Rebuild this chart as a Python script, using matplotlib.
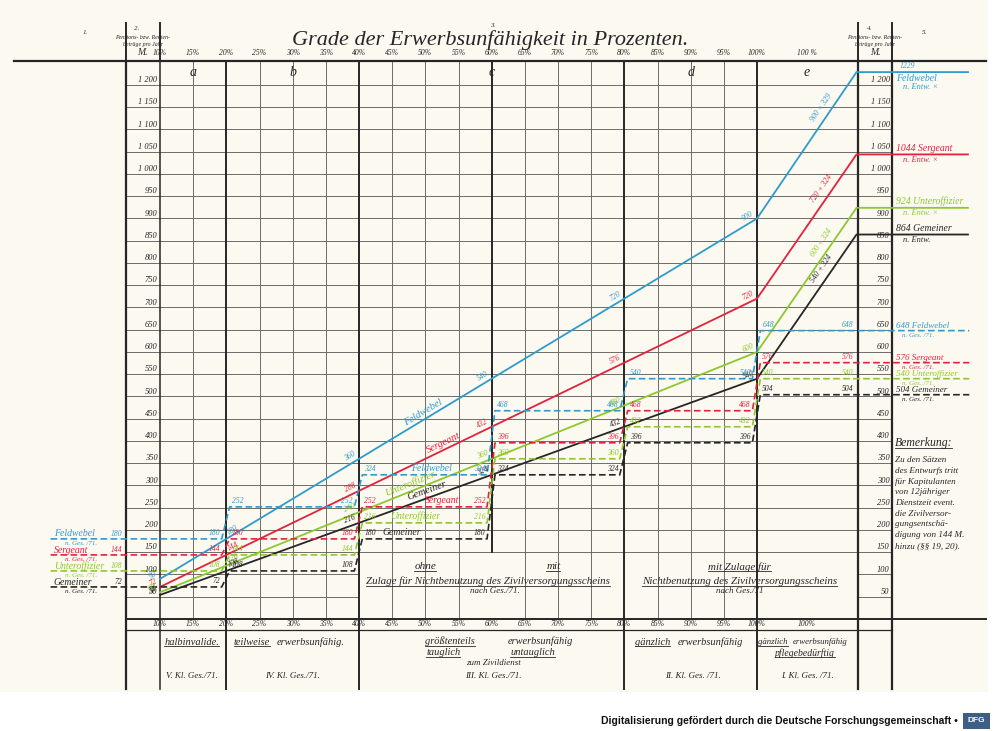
import math
import numpy as np
import matplotlib.pyplot as plt
from matplotlib.patches import Rectangle

# pension in Mark per year
pct_points = [10, 20, 40, 60, 80, 100, 115]
feldwebel_entw = [90, 180, 360, 540, 720, 900, 1229]
sergeant_entw = [72, 144, 288, 432, 576, 720, 1044]
unteroffizier_entw = [60, 120, 240, 360, 480, 600, 924]
gemeiner_entw = [54, 108, 216, 324, 432, 540, 864]

# steps according to the law of 1871 (one value per class band)
band_edges = [10, 20, 40, 60, 80, 100]
feldwebel_ges = [180, 252, 324, 468, 540, 648]
sergeant_ges = [144, 180, 252, 396, 468, 576]
unteroffizier_ges = [108, 144, 216, 360, 432, 540]
gemeiner_ges = [72, 108, 180, 324, 396, 504]

ranks = ['Feldwebel', 'Sergeant', 'Unteroffizier', 'Gemeiner']
e_zulage = ['900 + 329', '720 + 324', '600 + 324', '540 + 324']
pct_ticks = list(range(10, 105, 5))
mark_ticks = list(range(50, 1250, 50))

colors = ['#2f9bcc', '#e2223d', '#8cc92e', '#262626']
FONT = 'Liberation Serif'
INK = '#262626'
GRID = '#626262'

X_LEFT, X_E, X_RIGHT = 4.9, 115.2, 120.3
Y_TOP, Y_PCT, Y_BOT = 1254, -24, -157

fig = plt.figure(figsize=(10, 7.31), dpi=100, facecolor='white')
ax = fig.add_axes([0, 0, 1, 1])
ax.set_xlim(-14.12, 136.63)
ax.set_ylim(-251.7, 1391.0)
ax.axis('off')
ax.add_patch(Rectangle((-14.12, -164), 148.9, 1560, facecolor='#fcf9f1',
                       edgecolor='none', zorder=0))


def txt(x, y, s, size=6, color=INK, ha='center', va='center', rot=0, **kw):
    return ax.text(x, y, s, fontsize=size, color=color, ha=ha, va=va, rotation=rot,
                   rotation_mode='anchor', family=FONT, style='italic', zorder=5, **kw)


def angle_of(x0, y0, x1, y1):
    (a, b), (c, d) = ax.transData.transform([(x0, y0), (x1, y1)])
    return math.degrees(math.atan2(d - b, c - a))


def fmt(v):
    return f'{v:,}'.replace(',', ' ')


# grid
for v in mark_ticks:
    if v <= 100:
        ax.plot([X_LEFT, 40], [v, v], color=GRID, lw=0.65, zorder=1)
        ax.plot([X_E, X_RIGHT], [v, v], color=GRID, lw=0.65, zorder=1)
    else:
        ax.plot([X_LEFT, X_RIGHT], [v, v], color=GRID, lw=0.65, zorder=1)
    txt(9.6, v + 2, fmt(v), 6, ha='right', va='bottom')
    txt(120.0, v + 2, fmt(v), 6, ha='right', va='bottom')

for p in pct_ticks:
    if p % 20 == 0 or p == 10:
        continue
    ax.plot([p, p], [0, Y_TOP], color=GRID, lw=0.65, zorder=1)
for x, lw in [(X_LEFT, 1.6), (10, 1.1), (20, 1.4), (40, 1.4), (80, 1.4), (100, 1.4),
              (X_E, 1.6), (X_RIGHT, 1.6)]:
    ax.plot([x, x], [Y_BOT, Y_TOP], color=INK, lw=lw, zorder=2)
ax.plot([60, 60], [150, Y_TOP], color=INK, lw=1.4, zorder=2)
for x in [X_LEFT, 10, X_E, X_RIGHT]:
    ax.plot([x, x], [Y_TOP, 1339], color=INK, lw=1.4, zorder=2)
ax.plot([-12, 134.5], [Y_TOP, Y_TOP], color=INK, lw=1.6, zorder=2)
ax.plot([X_LEFT, 134.5], [0, 0], color=INK, lw=1.4, zorder=2)
ax.plot([X_LEFT, X_RIGHT], [Y_PCT, Y_PCT], color=INK, lw=0.9, zorder=2)

# percent labels top and bottom
for p in pct_ticks:
    txt(p, 1272, f'{p}%', 5.5)
    txt(p, -11, f'{p}%', 5.5)
txt(107.5, 1272, '100 %', 5.5)
txt(107.5, -11, '100%', 5.5)

# header
txt(59.8, 1301, 'Grade der Erwerbsunfähigkeit in Prozenten.', 16)
txt(-1.3, 1318, '1.', 5)
txt(60.2, 1333, '3.', 5)
txt(125.3, 1318, '5.', 5)
for xc, num in [(7.4, '2.'), (117.8, '4.')]:
    txt(xc - 0.9, 1328, num, 5)
    txt(xc, 1306, 'Pensions- bzw. Renten-', 4.2)
    txt(xc, 1292, 'beträge pro Jahr', 4.2)
    txt(xc, 1272, 'M.', 7)
for xc, letter in [(15, 'a'), (30, 'b'), (60, 'c'), (90, 'd'), (107.5, 'e')]:
    txt(xc, 1229, letter, 10)

# solid lines: draft (n. Entw.)
entw = [feldwebel_entw, sergeant_entw, unteroffizier_entw, gemeiner_entw]
name_pos = [50, 53, 48, 50.5]
for name, vals, col, zul, npos in zip(ranks, entw, colors, e_zulage, name_pos):
    ax.plot(pct_points + [131.8], vals + [vals[-1]], color=col, lw=1.3, zorder=3)
    ang = angle_of(10, vals[0], 100, vals[5])
    for p, v in zip(pct_points[:-1], vals[:-1]):
        if p == 20:
            txt(p + 0.5, v + 5, str(v), 5.5, col, ha='left', va='bottom', rot=ang)
        else:
            txt(p - 0.3, v + 5, str(v), 5.5, col, ha='right', va='bottom', rot=ang)
    yn = np.interp(npos, pct_points, vals)
    txt(npos, yn + 6, name, 7.5, col, va='bottom', rot=ang)
    e_ang = angle_of(100, vals[5], 115, vals[6])
    ym = np.interp(110.8, [100, 115], vals[5:7])
    txt(110.2, ym + 8, zul, 5.5, col, va='bottom', rot=e_ang)

# right labels for the draft
fw, sg, uo, gm = feldwebel_entw[-1], sergeant_entw[-1], unteroffizier_entw[-1], gemeiner_entw[-1]
txt(121.5, fw + 4, str(fw), 5.5, colors[0], ha='left', va='bottom')
txt(120.9, fw - 4, 'Feldwebel', 7, colors[0], ha='left', va='top')
txt(122.0, fw - 24, 'n. Entw. ×', 6, colors[0], ha='left', va='top')
for v, name, col, mark in [(sg, 'Sergeant', colors[1], ' ×'), (uo, 'Unteroffizier', colors[2], ' ×'),
                           (gm, 'Gemeiner', colors[3], '')]:
    txt(120.9, v + 3, f'{v} {name}', 7, col, ha='left', va='bottom')
    txt(122.0, v - 3, 'n. Entw.' + mark, 6, col, ha='left', va='top')

# dashed lines: law of 1871 (n. Ges. /71.)
ges = [feldwebel_ges, sergeant_ges, unteroffizier_ges, gemeiner_ges]
mid_pos = [51, 52.5, 48.5, 46.5]
for name, vals, col, mpos in zip(ranks, ges, colors, mid_pos):
    xs, ys = [-6.5], [vals[0]]
    for i, v in enumerate(vals):
        a = band_edges[i]
        last = i + 1 == len(band_edges)
        b = 132 if last else band_edges[i + 1]
        start = a if i == 0 else a + 0.5
        end = b if last else b - 0.7
        xs += [start, end]
        ys += [v, v]
        if i == 0:
            txt(4.3, v + 3, str(v), 5.5, col, ha='right', va='bottom')
        else:
            txt(start + 0.3, v + 4, str(v), 5.5, col, ha='left', va='bottom')
        txt((114.5 if last else end - 0.2), v + 4, str(v), 5.5, col, ha='right', va='bottom')
    ax.plot(xs, ys, color=col, lw=1.2, ls=(0, (4, 2)), zorder=3)
    txt(mpos, vals[2] + 4, name, 7, col, va='bottom')
    # left and right legends
    txt(-6.0, vals[0] + 11, name, 7, col, ha='left')
    txt(-4.3, vals[0] - 10, 'n. Ges. /71.', 5, col, ha='left')
    txt(120.9, vals[-1] + 11, f'{vals[-1]} {name}', 6.5, col, ha='left')
    txt(121.8, vals[-1] - 10, 'n. Ges. /71.', 5, col, ha='left')

# remark
remark = ['Zu den Sätzen', 'des Entwurfs tritt', 'für Kapitulanten', 'von 12jähriger',
          'Dienstzeit event.', 'die Zivilversor-', 'gungsentschä-', 'digung von 144 M.',
          'hinzu (§§ 19, 20).']
underlined = []
underlined.append(txt(120.8, 396, 'Bemerkung:', 8.5, ha='left'))
for i, line in enumerate(remark):
    txt(120.8, 357 - i * 24.1, line, 6.6, ha='left')

# notes inside the grid
underlined.append(txt(50, 117, 'ohne', 8))
underlined.append(txt(69.3, 117, 'mit', 8))
underlined.append(txt(59.5, 84, 'Zulage für Nichtbenutzung des Zivilversorgungsscheins', 7.9))
txt(60.5, 63, 'nach Ges./71.', 6.5)
underlined.append(txt(97.4, 117, 'mit Zulage für', 7.9))
underlined.append(txt(97.4, 84, 'Nichtbenutzung des Zivilversorgungsscheins', 7.9))
txt(97.4, 63, 'nach Ges./71', 6.5)

# class boxes below
underlined.append(txt(14.8, -52, 'halbinvalide.', 7.5))
underlined.append(txt(21.1, -52, 'teilweise', 7.5, ha='left'))
txt(27.6, -52, 'erwerbsunfähig.', 7.5, ha='left')
underlined.append(txt(53.7, -50, 'größtenteils', 7.5))
underlined.append(txt(52.7, -76, 'tauglich', 7.5))
txt(67.3, -50, 'erwerbsunfähig', 7.5)
underlined.append(txt(66.2, -76, 'untauglich', 7.5))
txt(60.2, -99, 'zum Zivildienst', 6.5)
underlined.append(txt(81.6, -52, 'gänzlich', 7.5, ha='left'))
txt(88.1, -52, 'erwerbsunfähig', 7.5, ha='left')
underlined.append(txt(100.2, -52, 'gänzlich', 6.3, ha='left'))
txt(105.4, -52, 'erwerbsunfähig', 6.3, ha='left')
underlined.append(txt(107.2, -76, 'pflegebedürftig', 7))
for xc, cls in [(14.8, 'V. Kl. Ges./71.'), (30, 'IV. Kl. Ges./71.'), (60.2, 'III. Kl. Ges./71.'),
                (90.4, 'II. Kl. Ges. /71.'), (107.6, 'I. Kl. Ges. /71.')]:
    txt(xc, -128, cls, 6.5)

fig.canvas.draw()
renderer = fig.canvas.get_renderer()
inv = ax.transData.inverted()
for t in underlined:
    bb = t.get_window_extent(renderer)
    (x0, y0), (x1, _) = inv.transform([(bb.x0, bb.y0), (bb.x1, bb.y1)])
    ax.plot([x0, x1], [y0 + 1, y0 + 1], color=INK, lw=0.6, zorder=5)

# footer
fig.text(0.958, 1 - 721 / 731, 'Digitalisierung gefördert durch die Deutsche Forschungsgemeinschaft •',
         fontsize=7.5, weight='bold', ha='right', va='center', family='Liberation Sans', color='#111111')
fig.patches.append(Rectangle((0.963, 1 - 729 / 731), 0.027, 16 / 731, transform=fig.transFigure,
                             facecolor='#3d5f86', edgecolor='none'))
fig.text(0.9765, 1 - 721 / 731, 'DFG', fontsize=6, weight='bold', ha='center', va='center',
         family='Liberation Sans', color='white')

fig.savefig('out.png', dpi=100, facecolor='white')
